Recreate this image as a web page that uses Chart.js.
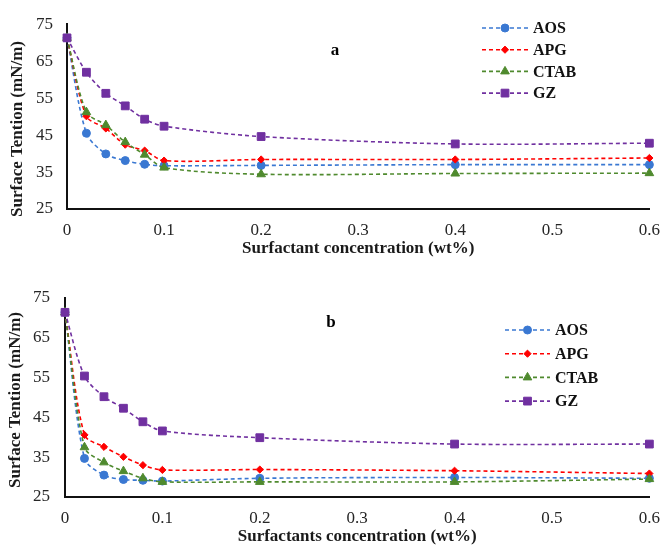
<!DOCTYPE html>
<html>
<head>
<meta charset="utf-8">
<script src="https://cdn.jsdelivr.net/npm/chart.js@4.4.0/dist/chart.umd.min.js"></script>
<style>
  html, body { margin: 0; padding: 0; background: #fff; }
  #wrap { position: relative; width: 671px; height: 547px; overflow: hidden; }
  .panel { position: absolute; left: 0; }
</style>
</head>
<body>
<div id="wrap">
  <div class="panel" style="top:0px"><canvas id="ca" width="671" height="262"></canvas></div>
  <div class="panel" style="top:270px"><canvas id="cb" width="671" height="277"></canvas></div>
</div>
<script>
// ---- data ----
const concentrations = [0, 0.02, 0.04, 0.06, 0.08, 0.1, 0.2, 0.4, 0.6];
const seriesNames = ["AOS", "APG", "CTAB", "GZ"];
const xTicks = [0, 0.1, 0.2, 0.3, 0.4, 0.5, 0.6];
const yTicks = [25, 35, 45, 55, 65, 75];

// panel a
const aAOS  = [71.3, 45.5, 39.9, 38.1, 37.1, 36.7, 36.8, 37.0, 37.0];
const aAPG  = [71.3, 50.1, 46.8, 42.4, 40.8, 38.1, 38.4, 38.4, 38.8];
const aCTAB = [71.3, 51.2, 47.7, 43.1, 39.7, 36.2, 34.4, 34.6, 34.7];
const aGZ   = [71.3, 62.0, 56.3, 52.9, 49.3, 47.4, 44.6, 42.6, 42.8];
// panel b
const bAOS  = [71.4, 34.7, 30.5, 29.4, 29.2, 29.0, 29.7, 29.9, 29.7];
const bAPG  = [71.4, 40.6, 37.6, 35.1, 33.0, 31.8, 31.9, 31.6, 30.9];
const bCTAB = [71.4, 37.5, 33.7, 31.5, 29.7, 28.8, 28.8, 28.8, 29.5];
const bGZ   = [71.4, 55.4, 50.2, 47.3, 43.9, 41.6, 39.9, 38.3, 38.3];

const yTitle = "Surface Tention (mN/m)";
const xTitleA = "Surfactant concentration (wt%)";
const xTitleB = "Surfactants concentration (wt%)";

// ---- styles ----
const styles = [
  { color: "#3a78d2", pointStyle: "circle",   radius: 4,   order: 3 },
  { color: "#ff0000", pointStyle: "rectRot",  radius: 3.6, order: 2 },
  { color: "#4f8a2e", pointStyle: "triangle", radius: 5,   order: 1 },
  { color: "#7030a0", pointStyle: "rect",     radius: 5.5, order: 0 }
];

function makeDatasets(arrs) {
  return arrs.map((vals, i) => ({
    label: seriesNames[i],
    data: concentrations.map((x, j) => ({ x: x, y: vals[j] })),
    borderColor: styles[i].color,
    backgroundColor: styles[i].color,
    borderWidth: 1.6,
    borderDash: [4, 3],
    pointStyle: styles[i].pointStyle,
    pointRadius: styles[i].radius,
    pointBorderWidth: 1,
    pointBackgroundColor: styles[i].color,
    pointBorderColor: styles[i].color,
    tension: 0.3,
    order: styles[i].order,
    clip: false,
    fill: false
  }));
}

// custom legend + labels plugin
const decorPlugin = {
  id: "decor",
  afterDraw(chart, args, opts) {
    const ctx = chart.ctx;
    ctx.save();
    const lg = opts.legend;
    chart.data.datasets.forEach((ds, i) => {
      const y = lg.y + i * lg.dy;
      ctx.save();
      ctx.strokeStyle = ds.borderColor;
      ctx.lineWidth = 1.6;
      ctx.setLineDash([4, 3]);
      ctx.beginPath();
      ctx.moveTo(lg.x0, y);
      ctx.lineTo(lg.x1, y);
      ctx.stroke();
      ctx.restore();
      const mx = (lg.x0 + lg.x1) / 2;
      ctx.save();
      ctx.fillStyle = ds.pointBackgroundColor;
      ctx.strokeStyle = ds.pointBorderColor;
      ctx.lineWidth = 1;
      Chart.helpers.drawPoint(ctx, { pointStyle: ds.pointStyle, radius: ds.pointRadius, rotation: 0, borderWidth: 1 }, mx, y);
      ctx.restore();
      ctx.fillStyle = "#111";
      ctx.font = "bold 16px 'Liberation Serif'";
      ctx.textBaseline = "middle";
      ctx.textAlign = "left";
      ctx.fillText(ds.label, lg.textX, y + 1);
    });
    ctx.fillStyle = "#000";
    ctx.font = "bold 17px 'Liberation Serif'";
    ctx.textAlign = "center";
    ctx.textBaseline = "middle";
    ctx.fillText(opts.letter.text, opts.letter.x, opts.letter.y);
    ctx.save();
    ctx.translate(opts.ytitle.x, opts.ytitle.y);
    ctx.rotate(-Math.PI / 2);
    ctx.font = "bold 17px 'Liberation Serif'";
    ctx.fillStyle = "#1a1a1a";
    ctx.textAlign = "center";
    ctx.textBaseline = "middle";
    ctx.fillText(yTitle, 0, 0);
    ctx.restore();
    ctx.restore();
  }
};

function makeChart(id, arrs, cfg) {
  return new Chart(document.getElementById(id), {
    type: "line",
    data: { datasets: makeDatasets(arrs) },
    plugins: [decorPlugin],
    options: {
      responsive: false,
      animation: false,
      events: [],
      layout: { padding: { top: cfg.top, right: 13, left: 0, bottom: 0 } },
      plugins: {
        legend: { display: false },
        tooltip: { enabled: false },
        title: { display: false },
        decor: { legend: cfg.legend, letter: cfg.letter, ytitle: cfg.ytitle }
      },
      scales: {
        x: {
          type: "linear",
          min: 0, max: 0.6,
          afterFit: s => { s.height = cfg.xh; },
          afterBuildTicks: s => { s.ticks = xTicks.map(v => ({ value: v })); },
          grid: { display: false, drawTicks: false },
          border: { display: true, color: "#111", width: 2 },
          ticks: {
            padding: 11,
            color: "#262626",
            font: { family: "'Liberation Serif'", size: 17 },
            callback: v => String(v)
          },
          title: {
            display: true,
            text: cfg.xtitle,
            color: "#1a1a1a",
            font: { family: "'Liberation Serif'", size: 17, weight: "bold" },
            padding: { top: 0, bottom: cfg.xtpad }
          }
        },
        y: {
          type: "linear",
          min: 25, max: 75,
          afterFit: s => { s.width = cfg.left; },
          afterBuildTicks: s => { s.ticks = yTicks.map(v => ({ value: v })); },
          grid: { display: false, drawTicks: false },
          border: { display: true, color: "#111", width: 2 },
          ticks: {
            padding: cfg.ypad,
            color: "#262626",
            font: { family: "'Liberation Serif'", size: 17 }
          }
        }
      }
    }
  });
}

makeChart("ca", [aAOS, aAPG, aCTAB, aGZ], {
  top: 20, left: 67, xh: 53, xtpad: 3, ypad: 14,
  xtitle: xTitleA,
  legend: { x0: 482, x1: 528, dy: 21.7, y: 28, textX: 533 },
  letter: { text: "a", x: 335, y: 51 },
  ytitle: { x: 18, y: 129 }
});
makeChart("cb", [bAOS, bAPG, bCTAB, bGZ], {
  top: 28, left: 65, xh: 50, xtpad: 0, ypad: 15,
  xtitle: xTitleB,
  legend: { x0: 505, x1: 550, dy: 23.7, y: 60, textX: 555 },
  letter: { text: "b", x: 331, y: 53 },
  ytitle: { x: 16, y: 130 }
});
</script>
</body>
</html>
